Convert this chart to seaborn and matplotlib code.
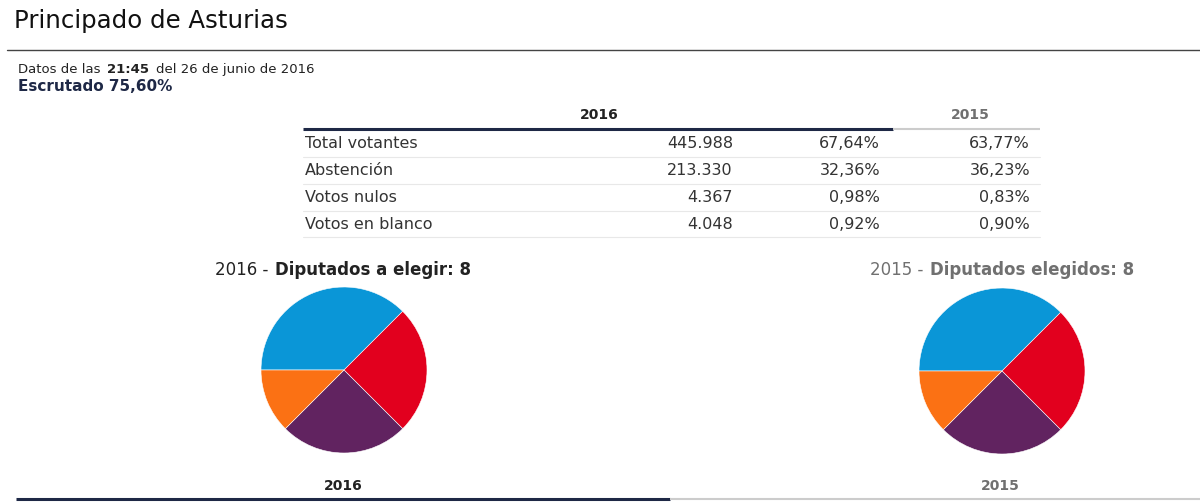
import matplotlib
matplotlib.use("Agg")
import matplotlib.pyplot as plt
import seaborn as sns

# --- data ---
parties = ["PP", "PSOE", "Unidos Podemos", "Cs"]
seats_2016 = [3, 2, 2, 1]
seats_2015 = [3, 2, 2, 1]

row_labels = ["Total votantes", "Abstención", "Votos nulos", "Votos en blanco"]
votes_2016 = [445988, 213330, 4367, 4048]
pct_2016 = [67.64, 32.36, 0.98, 0.92]
pct_2015 = [63.77, 36.23, 0.83, 0.90]

title = "Principado de Asturias"
hora = "21:45"
fecha = "del 26 de junio de 2016"
escrutado = 75.60

# --- style ---
sns.set_theme(style="white")
plt.rcParams["font.family"] = ["DejaVu Sans"]
palette = ["#0a96d7", "#e2001e", "#612360", "#fb7114"]
NAVY = "#1e2846"
GREY = "#707070"
TXT = "#222222"

W, H = 1200, 503
fig = plt.figure(figsize=(W / 100, H / 100), dpi=100)
fig.patch.set_facecolor("white")

# page axes in pixel units
ax = fig.add_axes([0, 0, 1, 1])
ax.set_xlim(0, W)
ax.set_ylim(H, 0)
ax.axis("off")
renderer = fig.canvas.get_renderer()


def fmt_int(v):
    return f"{v:,}".replace(",", ".")


def fmt_pct(v):
    return f"{v:.2f}%".replace(".", ",")


def rich_text(x, y, parts, ha="left", gap=5):
    # parts: list of (text, kwargs); drawn one after another on a line
    objs, cur = [], x
    for s, kw in parts:
        t = ax.text(cur, y, s, ha="left", va="center", **kw)
        w = t.get_window_extent(renderer).width
        objs.append(t)
        cur += w + gap
    total = cur - gap - x
    if ha == "center":
        for t in objs:
            px, py = t.get_position()
            t.set_position((px - total / 2, py))


# header
ax.text(14, 21, title, fontsize=17.6, color="#111111", va="center", ha="left")
ax.plot([7, W], [50, 50], color="#444444", lw=1)

rich_text(18, 69, [("Datos de las", dict(fontsize=9.5, color=TXT)),
                   (hora, dict(fontsize=9.5, color=TXT, fontweight="bold")),
                   (fecha, dict(fontsize=9.5, color=TXT))], gap=7)
ax.text(18, 86, f"Escrutado {fmt_pct(escrutado)}", fontsize=11, color=NAVY,
        fontweight="bold", va="center", ha="left")

# table
ax.text(599, 115, "2016", fontsize=10, fontweight="bold", color=TXT, ha="center", va="center")
ax.text(970, 115, "2015", fontsize=10, fontweight="bold", color=GREY, ha="center", va="center")
ax.plot([303, 893], [129, 129], color=NAVY, lw=2.2, solid_capstyle="butt")
ax.plot([893, 1040], [129, 129], color="#cccccc", lw=1.5, solid_capstyle="butt")

row_y0, row_h = 144, 26.7
for i, lab in enumerate(row_labels):
    y = row_y0 + i * row_h
    ax.text(305, y, lab, fontsize=11.5, color="#333333", ha="left", va="center")
    ax.text(733, y, fmt_int(votes_2016[i]), fontsize=11.5, color="#333333", ha="right", va="center")
    ax.text(880, y, fmt_pct(pct_2016[i]), fontsize=11.5, color="#333333", ha="right", va="center")
    ax.text(1030, y, fmt_pct(pct_2015[i]), fontsize=11.5, color="#333333", ha="right", va="center")
    ax.plot([303, 1040], [y + 13.3, y + 13.3], color="#e8e8e8", lw=0.8)

# pie titles
rich_text(343, 270, [("2016 -", dict(fontsize=12, color=TXT)),
                     ("Diputados a elegir: 8", dict(fontsize=12, color=TXT, fontweight="bold"))],
          ha="center", gap=7)
rich_text(1002, 270, [("2015 -", dict(fontsize=12, color=GREY)),
                      ("Diputados elegidos: 8", dict(fontsize=12, color=GREY, fontweight="bold"))],
          ha="center", gap=7)


def pie_axes(cx, cy, r):
    half = r * 1.03
    a = fig.add_axes([(cx - half) / W, 1 - (cy + half) / H, 2 * half / W, 2 * half / H])
    return a


for (cx, cy), seats in [((344, 370), seats_2016), ((1002, 371), seats_2015)]:
    pax = pie_axes(cx, cy, 83)
    pax.pie(seats, colors=palette, startangle=180, counterclock=False,
            wedgeprops=dict(edgecolor="white", linewidth=0.4))
    pax.set_xlim(-1.03, 1.03)
    pax.set_ylim(-1.03, 1.03)
    pax.set_aspect("equal")
    pax.axis("off")

# bottom tabs
ax.text(343, 486, "2016", fontsize=10, fontweight="bold", color=TXT, ha="center", va="center")
ax.text(1000, 486, "2015", fontsize=10, fontweight="bold", color=GREY, ha="center", va="center")
ax.plot([16, 670], [499, 499], color=NAVY, lw=2.2, solid_capstyle="butt")
ax.plot([670, W], [499, 499], color="#cccccc", lw=1.5, solid_capstyle="butt")

fig.savefig("out.png", dpi=100, facecolor="white")
